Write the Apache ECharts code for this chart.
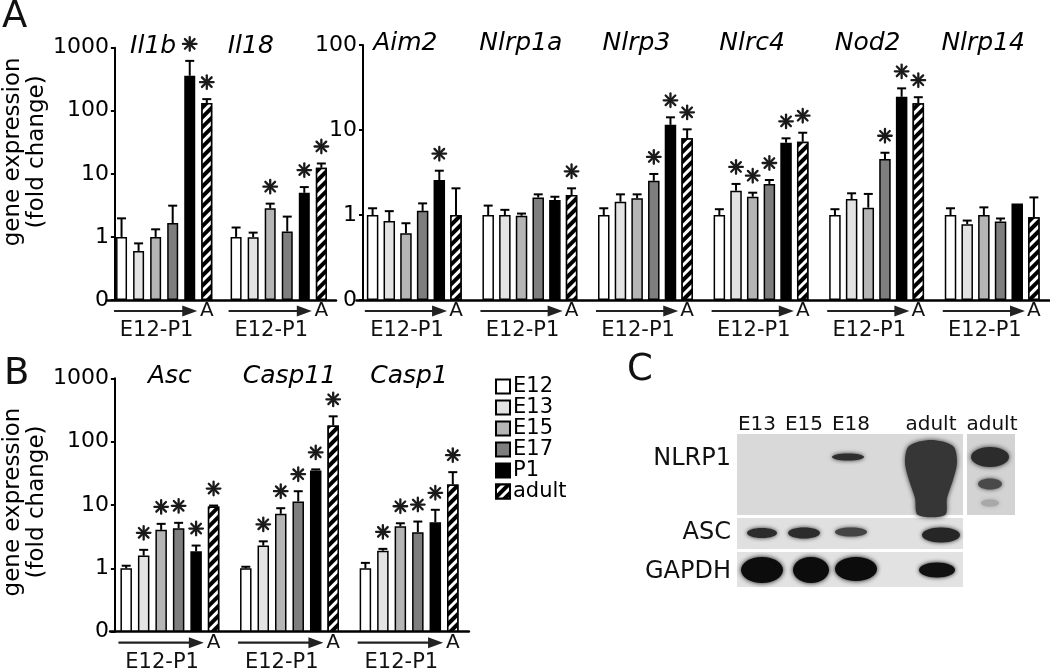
<!DOCTYPE html>
<html><head><meta charset="utf-8">
<script src="https://cdn.jsdelivr.net/npm/echarts@6/dist/echarts.min.js"></script>
<style>html,body{margin:0;padding:0;background:#fff}#c{width:1050px;height:671px}</style>
</head><body><div id="c"></div>
<script>
// ---------------- data ----------------
const stages = ['E12', 'E13', 'E15', 'E17', 'P1', 'adult'];

// Panel A, left axis (0 - 1000)
const genesA1 = ['Il1b', 'Il18'];
const il1bMean = [1.0, 0.60, 1.0, 1.66, 359, 133];
const il1bSE   = [0.97, 0.19, 0.32, 1.47, 259, 20];
const il1bSig  = [0, 0, 0, 0, 1, 1];
const il18Mean = [1.0, 0.99, 2.84, 1.22, 5.0, 12.5];
const il18SE   = [0.41, 0.18, 0.53, 0.88, 1.17, 2.1];
const il18Sig  = [0, 0, 1, 0, 1, 1];

// Panel A, right axis (0 - 100)
const genesA2 = ['Aim2', 'Nlrp1a', 'Nlrp3', 'Nlrc4', 'Nod2', 'Nlrp14'];
const aim2Mean   = [1.0, 0.85, 0.61, 1.12, 2.58, 1.0];
const aim2SE     = [0.2, 0.26, 0.19, 0.25, 0.74, 1.06];
const aim2Sig    = [0, 0, 0, 0, 1, 0];
const nlrp1aMean = [1.0, 1.0, 0.98, 1.61, 1.50, 1.72];
const nlrp1aSE   = [0.29, 0.15, 0.06, 0.14, 0.14, 0.34];
const nlrp1aSig  = [0, 0, 0, 0, 0, 1];
const nlrp3Mean  = [1.0, 1.43, 1.57, 2.53, 11.5, 7.98];
const nlrp3SE    = [0.2, 0.32, 0.18, 0.51, 2.6, 2.2];
const nlrp3Sig   = [0, 0, 0, 1, 1, 1];
const nlrc4Mean  = [1.0, 1.93, 1.64, 2.32, 7.1, 7.29];
const nlrc4SE    = [0.17, 0.39, 0.19, 0.26, 0.88, 2.0];
const nlrc4Sig   = [0, 1, 1, 1, 1, 1];
const nod2Mean   = [1.0, 1.54, 1.22, 4.56, 24.6, 20.6];
const nod2SE     = [0.17, 0.26, 0.55, 0.84, 6.3, 3.7];
const nod2Sig    = [0, 0, 0, 1, 1, 1];
const nlrp14Mean = [1.0, 0.78, 1.0, 0.84, 1.37, 0.94];
const nlrp14SE   = [0.2, 0.08, 0.23, 0.07, 0, 0.67];
const nlrp14Sig  = [0, 0, 0, 0, 0, 0];

// Panel B (0 - 1000)
const genesB = ['Asc', 'Casp11', 'Casp1'];
const ascMean    = [1.0, 1.59, 4.05, 4.3, 1.86, 9.47];
const ascSE      = [0.1, 0.37, 0.99, 0.93, 0.43, 0.33];
const ascSig     = [0, 1, 1, 1, 1, 1];
const casp11Mean = [1.0, 2.29, 7.26, 11.4, 35.2, 180];
const casp11SE   = [0.06, 0.38, 1.64, 5.1, 1.3, 71];
const casp11Sig  = [0, 1, 1, 1, 1, 1];
const casp1Mean  = [1.0, 1.9, 4.62, 3.71, 5.34, 21.1];
const casp1SE    = [0.22, 0.13, 0.53, 1.77, 3.06, 11.9];
const casp1Sig   = [0, 1, 1, 1, 1, 1];

// Panel C (western blot) text
const blotLanes = ['E13', 'E15', 'E18', 'adult', 'adult'];
const blotRows = ['NLRP1', 'ASC', 'GAPDH'];
const axisTitle = 'gene expression\n(fold change)';
const arrowStart = 'E12-P1';
const adultShort = 'A';

// ---------------- styling / layout ----------------
const FONT = 'DejaVu Sans';
const fills = ['#ffffff', '#e3e3e3', '#b5b5b5', '#7e7e7e', '#000000', '#ffffff'];
const hatch = {symbol: 'rect', symbolSize: 1, dashArrayX: [1, 0], dashArrayY: [3.5, 3],
               rotation: -Math.PI / 4, color: '#000', backgroundColor: '#fff'};

const panels = [
  {genes: genesA1, mean: [il1bMean, il18Mean], se: [il1bSE, il18SE], sig: [il1bSig, il18Sig],
   box: {left: 97, top: 47.7, width: 239, height: 252.3}, yMax: 1000, yOff: -8,
   bw: 11, gapPct: 0.55, shift: [11, 28], yName: true, namePad: 44},
  {genes: genesA2,
   mean: [aim2Mean, nlrp1aMean, nlrp3Mean, nlrc4Mean, nod2Mean, nlrp14Mean],
   se: [aim2SE, nlrp1aSE, nlrp3SE, nlrc4SE, nod2SE, nlrp14SE],
   sig: [aim2Sig, nlrp1aSig, nlrp3Sig, nlrc4Sig, nod2Sig, nlrp14Sig],
   box: {left: 356.5, top: 45, width: 701.4, height: 255}, yMax: 100, yOff: -6.5,
   bw: 11.5, gapPct: 0.45, shift: [9, 9, 9, 9, 9, 9], yName: false, namePad: 0},
  {genes: genesB, mean: [ascMean, casp11Mean, casp1Mean], se: [ascSE, casp11SE, casp1SE],
   sig: [ascSig, casp11Sig, casp1Sig],
   box: {left: 100.2, top: 378.3, width: 368.7, height: 253.4}, yMax: 1000, yOff: -4.8,
   bw: 11.5, gapPct: 0.52, shift: [0, 0, 0], yName: true, namePad: 6}
];

const grid = [], xAxis = [], yAxis = [], series = [];

function asterisk(cx, cy, r) {
  const kids = [];
  for (let k = 0; k < 4; k++) {
    const a = k * Math.PI / 4;
    kids.push({type: 'line', shape: {x1: cx - r * Math.cos(a), y1: cy - r * Math.sin(a),
      x2: cx + r * Math.cos(a), y2: cy + r * Math.sin(a)},
      style: {stroke: '#1a1a1a', lineWidth: 2.3, lineCap: 'round'}});
  }
  return kids;
}

panels.forEach((p, pi) => {
  grid.push(Object.assign({containLabel: false}, p.box));
  // bottom axis (baseline)
  xAxis.push({type: 'category', gridIndex: pi, data: p.genes, position: 'bottom',
    axisLine: {show: true, onZero: false, lineStyle: {color: '#000', width: 2.5}},
    axisTick: {show: false}, axisLabel: {show: false}, splitLine: {show: false}});
  // top axis (gene titles)
  const rich = {};
  p.genes.forEach((g, i) => {
    rich['s' + i] = {fontFamily: FONT, fontStyle: 'italic', fontSize: 25, color: '#000',
      padding: [0, 2 * p.shift[i], 0, 0]};
  });
  xAxis.push({type: 'category', gridIndex: pi, data: p.genes, position: 'top',
    axisLine: {show: false}, axisTick: {show: false},
    axisLabel: {show: true, interval: 0, margin: -11,
      formatter: (v, i) => '{s' + i + '|' + v + '}', rich: rich},
    splitLine: {show: false}});
  yAxis.push({type: 'log', logBase: 10, gridIndex: pi, min: 0.1, max: p.yMax, startValue: 0.1,
    offset: p.yOff,
    name: p.yName ? axisTitle : '', nameLocation: 'middle', nameGap: 55, nameRotate: 90,
    nameTextStyle: {fontFamily: FONT, fontSize: 23, lineHeight: 24, color: '#000',
      padding: [0, 0, 0, p.namePad]},
    axisLine: {show: true, lineStyle: {color: '#000', width: 2}},
    axisTick: {show: true, length: 4, lineStyle: {color: '#000', width: 2}},
    splitLine: {show: false},
    axisLabel: {fontFamily: FONT, fontSize: 22, color: '#000', margin: 6,
      formatter: v => (v < 0.5 ? '0' : String(Math.round(v)))}});

  // bars: one series per stage
  stages.forEach((s, si) => {
    const style = {color: fills[si], borderColor: '#000', borderWidth: 1.5};
    if (s === 'adult') style.decal = hatch;
    series.push({type: 'bar', name: s, xAxisIndex: 2 * pi, yAxisIndex: pi,
      barWidth: p.bw, barGap: (p.gapPct * 100) + '%',
      data: p.genes.map((g, gi) => p.mean[gi][si]), itemStyle: style, z: 2});
  });

  // error bars + asterisks
  const bw = p.bw, gap = p.bw * p.gapPct, total = 6 * bw + 5 * gap;
  const errData = [];
  p.genes.forEach((g, gi) => stages.forEach((s, si) => {
    errData.push([gi, si, p.mean[gi][si], p.se[gi][si], p.sig[gi][si]]);
  }));
  series.push({type: 'custom', name: 'err' + pi, xAxisIndex: 2 * pi, yAxisIndex: pi, z: 3,
    encode: {x: 0, y: 2}, data: errData, clip: false,
    renderItem: (params, api) => {
      const gi = api.value(0), si = api.value(1), m = api.value(2), e = api.value(3), sg = api.value(4);
      const base = api.coord([gi, m]);
      const cx = base[0] - total / 2 + si * (bw + gap) + bw / 2;
      const yT = api.coord([gi, m + e])[1];
      const kids = [];
      if (e > 0) {
        kids.push({type: 'line', shape: {x1: cx, y1: base[1], x2: cx, y2: yT},
          style: {stroke: '#000', lineWidth: 2}});
        kids.push({type: 'line', shape: {x1: cx - 4.5, y1: yT, x2: cx + 4.5, y2: yT},
          style: {stroke: '#000', lineWidth: 2}});
      }
      if (sg) kids.push(...asterisk(cx, yT - 17, 6.8));
      return {type: 'group', children: kids};
    }});

  // arrow "E12-P1 -> A" under every group
  series.push({type: 'custom', name: 'arrow' + pi, xAxisIndex: 2 * pi, yAxisIndex: pi, z: 3,
    encode: {x: 0, y: 1}, clip: false,
    data: p.genes.map((g, gi) => [gi, 0.1]),
    renderItem: (params, api) => {
      const c = api.coord([api.value(0), 0.1]);
      const x0 = c[0] - total / 2;
      const xEnd = x0 + 4 * (bw + gap) + bw + 2;
      const xA = x0 + 5 * (bw + gap) + bw / 2;
      const y = c[1] + 11;
      return {type: 'group', children: [
        {type: 'line', shape: {x1: x0 - 2, y1: y, x2: xEnd - 10, y2: y},
          style: {stroke: '#222', lineWidth: 2.2}},
        {type: 'polygon', shape: {points: [[xEnd - 15, y - 5.5], [xEnd, y], [xEnd - 15, y + 5.5]]},
          style: {fill: '#222'}},
        {type: 'text', x: xA, y: y, style: {text: adultShort, font: '20px "' + FONT + '"', fill: '#111',
          align: 'center', verticalAlign: 'middle', textAlign: 'center', textVerticalAlign: 'middle'}},
        {type: 'text', x: (x0 + xEnd) / 2, y: c[1] + 31, style: {text: arrowStart,
          font: '21px "' + FONT + '"', fill: '#111', align: 'center', verticalAlign: 'middle',
          textAlign: 'center', textVerticalAlign: 'middle'}}
      ]};
    }});
});

// ---------------- panel C (blot) as graphics ----------------
function txt(text, x, y, size, align) {
  return {type: 'text', x: x, y: y, style: {text: text, font: size + 'px "' + FONT + '"', fill: '#111',
    align: align, verticalAlign: 'middle', textAlign: align, textVerticalAlign: 'middle'}};
}
function band(cx, cy, rx, ry, color, blur) {
  return {type: 'ellipse', shape: {cx: cx, cy: cy, rx: rx, ry: ry},
    style: {fill: color, shadowBlur: blur, shadowColor: color}};
}
const laneX = [757, 804, 851, 931, 992];
const rowY = [459, 533, 572];
const graphics = [
  txt('A', 2, 17, 37, 'left'),
  txt('B', 4, 374, 37, 'left'),
  txt('C', 627, 370, 37, 'left'),
  {type: 'rect', shape: {x: 737, y: 434, width: 226, height: 81}, style: {fill: '#d9d9d9'}},
  {type: 'rect', shape: {x: 967, y: 434, width: 48, height: 81}, style: {fill: '#d3d3d3'}},
  {type: 'rect', shape: {x: 737, y: 518, width: 226, height: 31}, style: {fill: '#e0e0e0'}},
  {type: 'rect', shape: {x: 737, y: 552, width: 226, height: 35}, style: {fill: '#e2e2e2'}},
  // NLRP1
  band(848, 457, 16, 3.5, '#2e2e2e', 4),
  {type: 'polygon', shape: {smooth: 0.3, points: [[905, 462], [909, 446], [931, 440], [953, 446],
    [957, 462], [953, 480], [947, 498], [945, 515], [918, 515], [915, 498], [909, 480]]},
    style: {fill: '#363636', shadowBlur: 5, shadowColor: '#363636'}},
  band(990, 457, 19, 10, '#2c2c2c', 5),
  band(990, 484, 12, 5.5, '#4a4a4a', 4),
  band(990, 503, 9, 3.5, '#a8a8a8', 4),
  // ASC
  band(762, 533, 15, 5, '#2c2c2c', 4),
  band(804, 533, 16, 5.5, '#2c2c2c', 4),
  band(851, 532, 16, 4.5, '#444444', 4),
  band(941, 535, 19, 7.5, '#262626', 4),
  // GAPDH
  band(762, 570, 21, 13, '#0c0c0c', 5),
  band(811, 570, 18, 13, '#0c0c0c', 5),
  band(856, 569, 21, 12, '#0c0c0c', 5),
  band(937, 570, 18, 7.5, '#111111', 4)
];
blotLanes.forEach((l, i) => graphics.push(txt(l, laneX[i], 425, 20, 'center')));
blotRows.forEach((r, i) => graphics.push(txt(r, 731, rowY[i], 24, 'right')));

const option = {
  animation: false,
  backgroundColor: '#fff',
  textStyle: {fontFamily: FONT},
  grid: grid, xAxis: xAxis, yAxis: yAxis, series: series,
  legend: {data: stages, orient: 'vertical', left: 490, top: 371, icon: 'rect',
    itemWidth: 14, itemHeight: 14, itemGap: 0, selectedMode: false,
    textStyle: {fontFamily: FONT, fontSize: 21, lineHeight: 20, color: '#000', padding: [0, 0, 0, -2]}},
  graphic: graphics
};
const chart = echarts.init(document.getElementById('c'));
chart.setOption(option);
</script></body></html>
